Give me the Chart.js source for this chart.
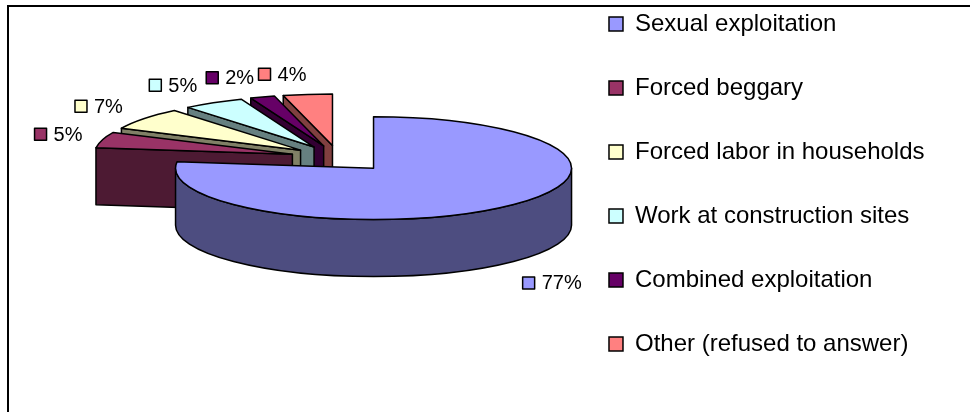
<!DOCTYPE html>
<html>
<head>
<meta charset="utf-8">
<script src="https://cdn.jsdelivr.net/npm/chart.js@4.4.1/dist/chart.umd.min.js"></script>
<style>
  html, body { margin: 0; padding: 0; background: #fff; }
  #wrap { position: relative; width: 970px; height: 412px; overflow: hidden; }
  #frame { position: absolute; left: 7px; top: 5px; width: 1000px; height: 500px;
           border-left: 2px solid #000; border-top: 2px solid #000; pointer-events: none; }
</style>
</head>
<body>
<div id="wrap">
  <canvas id="myChart" width="970" height="412"></canvas>
  <div id="frame"></div>
</div>
<script>
// DATA
var categories = ['Sexual exploitation', 'Forced beggary', 'Forced labor in households',
                  'Work at construction sites', 'Combined exploitation', 'Other (refused to answer)'];
var shares = [77, 5, 7, 5, 2, 4];
var sliceColors = ['#9999FF', '#993366', '#FFFFCC', '#CCFFFF', '#660066', '#FF8080'];
var explode = [53, 48, 48, 48, 48, 48];

// 3D look (Excel style tilted pie)
var view = { tilt: 0.26, depth: 57, centerY: 0.383, labelRadiusX: 1.195, labelRadiusY: 1.2 };
var fontFamily = "'Liberation Sans', Arial, sans-serif";

function darker(hex) {
    var n = parseInt(hex.slice(1), 16);
    var r = (n >> 16) & 255, g = (n >> 8) & 255, b = n & 255;
    return 'rgb(' + Math.round(r / 2) + ',' + Math.round(g / 2) + ',' + Math.round(b / 2) + ')';
}

var pie3d = {
    id: 'pie3d',
    beforeDatasetsDraw: function(chart) {
        var ctx = chart.ctx;
        var arcs = chart.getDatasetMeta(0).data;
        var area = chart.chartArea;
        var cy0 = area.top + area.height * view.centerY;
        var s = view.tilt, depth = view.depth;
        var total = shares.reduce(function(a, b) { return a + b; }, 0);

        var slices = arcs.map(function(arc, i) {
            var mid = (arc.startAngle + arc.endAngle) / 2;
            var cx = arc.x + explode[i] * Math.cos(mid);
            var cy = cy0 + explode[i] * Math.sin(mid) * s;
            return { arc: arc, i: i, mid: mid, cx: cx, cy: cy,
                     order: cy + arc.outerRadius * 0.5 * Math.sin(mid) * s };
        });

        function rim(sl, a) {
            var r = sl.arc.outerRadius;
            return [sl.cx + r * Math.cos(a), sl.cy + r * Math.sin(a) * s];
        }
        function face(sl, a, fill) {
            var p = rim(sl, a);
            ctx.beginPath();
            ctx.moveTo(sl.cx, sl.cy);
            ctx.lineTo(p[0], p[1]);
            ctx.lineTo(p[0], p[1] + depth);
            ctx.lineTo(sl.cx, sl.cy + depth);
            ctx.closePath();
            ctx.fillStyle = fill;
            ctx.fill();
            ctx.stroke();
        }

        ctx.save();
        ctx.lineWidth = 1.5;
        ctx.strokeStyle = '#000';
        ctx.lineJoin = 'round';

        // back to front
        slices.slice().sort(function(a, b) { return a.order - b.order; }).forEach(function(sl) {
            var arc = sl.arc;
            var a0 = arc.startAngle, a1 = arc.endAngle, r = arc.outerRadius;
            var side = darker(sliceColors[sl.i]);
            if (Math.cos(a0) < -1e-6) face(sl, a0, side);
            if (Math.cos(a1) > 1e-6) face(sl, a1, side);
            var lo = Math.max(a0, 0), hi = Math.min(a1, Math.PI);
            if (hi > lo) {
                ctx.beginPath();
                ctx.ellipse(sl.cx, sl.cy, r, r * s, 0, lo, hi);
                ctx.ellipse(sl.cx, sl.cy + depth, r, r * s, 0, hi, lo, true);
                ctx.closePath();
                ctx.fillStyle = side;
                ctx.fill();
                ctx.stroke();
            }
            // top face: the library's arc, squashed
            ctx.save();
            ctx.translate(sl.cx - arc.x, sl.cy);
            ctx.scale(1, s);
            ctx.translate(0, -arc.y);
            arc.draw(ctx);
            ctx.beginPath();
            ctx.moveTo(arc.x, arc.y);
            ctx.arc(arc.x, arc.y, r, a0, a1);
            ctx.closePath();
            ctx.restore();
            ctx.stroke();
        });

        // percent labels
        ctx.font = '20px ' + fontFamily;
        ctx.textBaseline = 'middle';
        ctx.textAlign = 'left';
        slices.forEach(function(sl) {
            var text = Math.round(shares[sl.i] / total * 100) + '%';
            var box = 12, gap = 7, h = 20;
            var w = box + gap + ctx.measureText(text).width;
            var r = sl.arc.outerRadius;
            var c = Math.cos(sl.mid), sn = Math.sin(sl.mid);
            var push = Math.min(Math.abs(sn), 0.85);
            var x = sl.cx + c * r * view.labelRadiusX + Math.sign(c) * push * w / 2;
            var y = sl.cy + sn * (r * view.labelRadiusY * s + h / 2) + (sn > 0 ? depth + 4 : 0);
            var left = x - w / 2;
            ctx.fillStyle = sliceColors[sl.i];
            ctx.fillRect(left, y - box / 2, box, box);
            ctx.strokeRect(left, y - box / 2, box, box);
            ctx.fillStyle = '#000';
            ctx.fillText(text, left + box + gap, y + 1);
        });
        ctx.restore();
        return false;
    }
};

new Chart(document.getElementById('myChart'), {
    type: 'pie',
    data: {
        labels: categories,
        datasets: [{
            data: shares,
            backgroundColor: sliceColors,
            borderWidth: 0,
            radius: 198
        }]
    },
    options: {
        responsive: false,
        animation: false,
        events: [],
        layout: { padding: { left: 108, right: 35.5 } },
        plugins: {
            tooltip: { enabled: false },
            legend: {
                position: 'right',
                align: 'start',
                title: { display: true, text: '', font: { size: 1, lineHeight: 1 }, padding: { top: -29, bottom: 0 } },
                labels: {
                    boxWidth: 14,
                    boxHeight: 14,
                    padding: 40,
                    color: '#000',
                    font: { size: 24, family: fontFamily },
                    generateLabels: function(chart) {
                        var items = Chart.overrides.doughnut.plugins.legend.labels.generateLabels(chart);
                        items.forEach(function(it) { it.strokeStyle = '#000'; it.lineWidth = 1.5; });
                        return items;
                    }
                }
            }
        }
    },
    plugins: [pie3d]
});
</script>
</body>
</html>
